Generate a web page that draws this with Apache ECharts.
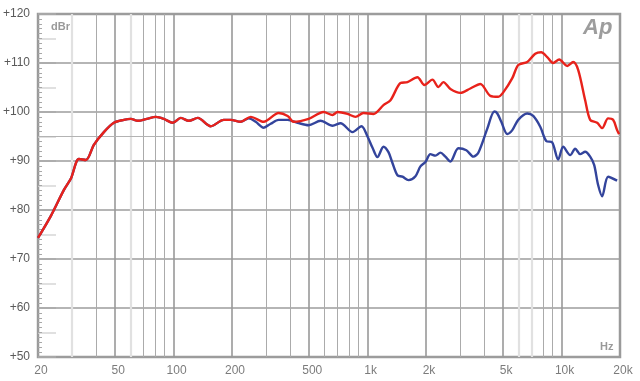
<!DOCTYPE html>
<html>
<head>
<meta charset="utf-8">
<script src="https://cdn.jsdelivr.net/npm/echarts@6/dist/echarts.min.js"></script>
<style>
html,body{margin:0;padding:0;background:#fff;}
#chart{width:640px;height:381px;}
</style>
</head>
<body>
<div id="chart"></div>
<script>
// Frequency (Hz) and level (dBr)
const redFreq = [20,23.3,27.2,29.6,32.5,35.3,38.8,43.7,49.2,55.4,60.2,65.4,72.8,81,89,99,108.9,119.7,133.2,155.4,181.3,196.9,221.6,249.6,291.2,347.8,387,415.6,496.4,593,659.6,699.8,788,866,952,1072,1207,1312,1477,1605,1806,1962,2158,2316,2458,2672,3006,3385,3811,4290,4717,5004,5570,5978,6651,7312,7852,8430,9050,9720,10684,11472,12172,13228,14036,15248,16178,17370,18426,19324,19790];
const redDb = [74.3,78.8,84.1,86.5,90.4,90.2,93.3,95.9,97.8,98.4,98.6,98.2,98.6,99.0,98.6,97.8,98.8,98.2,98.8,97.1,98.4,98.4,98.0,99.0,98.0,99.8,99.2,98.0,98.6,100.0,99.4,100.0,99.6,99.0,99.8,99.6,101.4,102.4,105.9,106.1,107.1,105.5,106.6,105.1,106.1,104.7,103.9,104.8,105.7,103.3,103.1,104.0,106.9,109.6,110.2,111.9,112.2,111.2,110.0,110.7,109.4,110.2,108.6,102.4,98.4,97.8,96.7,98.7,98.4,96.3,95.5];

const blueFreq = [20,23.3,27.2,29.6,32.5,35.3,38.8,43.7,49.2,55.4,60.2,65.4,72.8,81,89,99,108.9,119.7,133.2,155.4,181.3,196.9,221.6,243.8,264.8,291.2,316.4,347.8,387,435.6,496.4,572.2,659.6,725.2,836.2,930,998.8,1060,1124,1207,1281,1343,1425,1512,1624,1765,1872,1986,2107,2236,2372,2516,2672,2936,3228,3508,3722,4140,4498,4662,4888,5248,5570,5978,6651,7140,7760,8330,8944,9604,10192,11072,11748,12468,13228,14036,14714,15426,16178,17370,19324];
const blueDb = [74.3,78.8,84.1,86.5,90.4,90.2,93.3,95.9,97.8,98.4,98.6,98.2,98.6,99.0,98.6,97.8,98.8,98.2,98.8,97.1,98.4,98.4,98.0,98.7,98.0,96.8,97.6,98.4,98.4,97.8,97.3,98.2,97.2,97.7,95.9,97.1,95.0,92.7,90.8,92.9,91.8,89.6,87.1,86.8,86.1,86.9,88.9,89.8,91.4,91.1,91.7,90.9,89.9,92.6,92.2,90.9,91.7,96.6,100.1,99.7,98.0,95.5,96.3,98.4,99.7,99.2,97.0,94.1,93.8,90.3,92.9,91.2,92.5,91.4,91.9,90.9,89.2,85.1,82.8,86.8,86.0];

// Axis ticks / grid lines
const xTickValues = [20,50,100,200,500,1000,2000,5000,10000,20000];
const xTickLabels = ['20','50','100','200','500','1k','2k','5k','10k','20k'];
const xMajorLines = [50,100,200,500,1000,2000,5000,10000];
const xMinorLines = [40,70,80,90,300,400,600,700,800,900,3000,4000,8000,9000];
const xLightLines = [30,60,6000,7000];
const yMin = 50, yMax = 120, yStep = 10;
const yRefLine = 95;

const chart = echarts.init(document.getElementById('chart'), null, {renderer:'canvas'});
const font = "'Liberation Sans', Arial, sans-serif";

const pairs = (xs, ys) => xs.map((x, i) => [x, ys[i]]);

const gridMarks = []
  .concat(xLightLines.map(v => ({xAxis: v, lineStyle: {color:'#e1e1e1', width:2.2, type:'solid'}})))
  .concat(xMinorLines.map(v => ({xAxis: v, lineStyle: {color:'#ababab', width:1, type:'solid'}})))
  .concat(xMajorLines.map(v => ({xAxis: v, lineStyle: {color:'#999999', width:1.6, type:'solid'}})))
  .concat([{yAxis: yRefLine, lineStyle: {color:'#b3b3b3', width:1.2, type:'solid'}}]);

chart.setOption({
  animation: false,
  backgroundColor: '#ffffff',
  grid: {left: 37, right: 20, top: 14, bottom: 24, show: true, borderColor: '#9a9a9a', borderWidth: 2.5, backgroundColor:'transparent'},
  xAxis: {
    type: 'log', logBase: 10, min: 20, max: 20000,
    axisLine: {show: false}, axisTick: {show: false}, axisLabel: {show: false},
    splitLine: {show: false}, minorTick: {show:false}, minorSplitLine: {show:false}
  },
  yAxis: [{
    type: 'value', min: yMin, max: yMax, interval: yStep, z: 2,
    axisLine: {show: false},
    axisTick: {show: false, inside: true},
    minorTick: {show: true, splitNumber: 10, length: 4, lineStyle: {color: '#a8a8a8', width: 1}},
    axisLabel: {formatter: v => '+' + v, color: '#5a5a5a', fontSize: 12, fontFamily: font, margin: 8},
    splitLine: {show: true, lineStyle: {color: '#9c9c9c', width: 1.6}}
  }, {
    type: 'value', min: yMin, max: yMax, interval: 5, position: 'left', z: 1,
    axisLine: {show: false}, axisLabel: {show: false}, splitLine: {show: false},
    axisTick: {show: true, inside: true, length: 18, lineStyle: {color: '#d6d6d6', width: 1.5}}
  }],
  series: [
    {
      type: 'scatter', name: 'ticks', z: 2, clip: false, silent: true,
      symbolSize: 1, itemStyle: {color: 'rgba(0,0,0,0)'},
      data: xTickValues.map(v => [v, yMin]),
      label: {show: true, position: 'bottom', distance: 7, offset: [3, 0], color: '#5a5a5a', fontSize: 12, fontFamily: font,
        formatter: p => xTickLabels[p.dataIndex]},
      markLine: {silent: true, symbol: ['none','none'], label: {show: false}, animation: false,
        emphasis: {disabled: true}, data: gridMarks}
    },
    {
      type: 'line', name: 'blue', z: 5, data: pairs(blueFreq, blueDb), showSymbol: false, symbol: 'none',
      smooth: 0.3, lineStyle: {color: '#33449c', width: 2.4}
    },
    {
      type: 'line', name: 'red', z: 6, data: pairs(redFreq, redDb), showSymbol: false, symbol: 'none',
      smooth: 0.3, lineStyle: {color: '#e8221b', width: 2.4}
    }
  ],
  graphic: [
    {type: 'text', left: 51, top: 21, z: 10, style: {text: 'dBr', fill: '#999', font: 'bold 11px ' + font}},
    {type: 'text', left: 600, top: 341, z: 10, style: {text: 'Hz', fill: '#999', font: 'bold 11px ' + font}},
    {type: 'text', left: 583, top: 17, z: 10, style: {text: 'Ap', fill: '#9d9d9d', font: 'italic bold 22px ' + font}}
  ]
});
</script>
</body>
</html>
